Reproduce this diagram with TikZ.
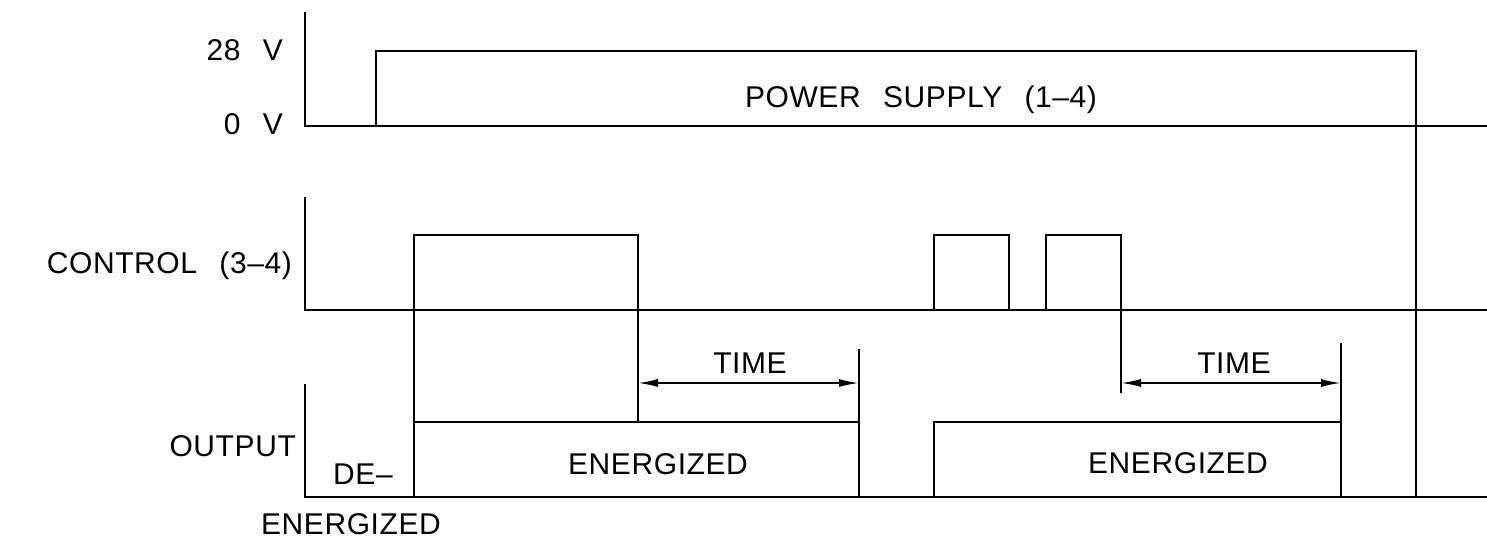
\documentclass[tikz,border=0pt]{standalone}
\usepackage{fontspec}
\setmainfont{Liberation Sans}[WordSpace=2.5,LetterSpace=2]
\usepackage{tikz}
\usetikzlibrary{arrows.meta}

\begin{document}
\begin{tikzpicture}[x=0.5pt,y=-0.5pt,line width=1.1pt,font=\fontsize{15}{18}\selectfont,lbl/.style={inner sep=0pt,text height=10.7pt,text depth=0pt},dim/.style={{Latex[length=10pt,width=4pt]}-{Latex[length=10pt,width=4pt]},line width=0.9pt}]
\useasboundingbox (0,0) rectangle (1487,541);
% power supply trace
\node[lbl,anchor=east] (v28) at (284,50) {28 V};
\node[lbl,anchor=east] (v0) at (284,124) {0 V};
\draw (305,12) -- (305,126) -- (1487,126);
\draw (376,126) -- (376,51) -- (1416,51) -- (1416,497);
\node[lbl] (power) at (921,97) {POWER SUPPLY (1–4)};
% control trace
\node[lbl,anchor=east] (ctrl) at (293,263) {CONTROL (3–4)};
\draw (305,197) -- (305,310) -- (1487,310);
\draw (414,497) -- (414,235) -- (638,235) -- (638,422);
\draw (934,310) -- (934,235) -- (1009,235) -- (1009,310);
\draw (1046,310) -- (1046,235) -- (1121,235) -- (1121,393);
% output trace
\node[lbl,anchor=east] (out) at (297,446) {OUTPUT};
\draw (305,384) -- (305,497) -- (1487,497);
\draw (414,422) -- (859,422);
\draw (859,349) -- (859,497);
\draw (934,497) -- (934,422) -- (1341,422);
\draw (1341,343) -- (1341,497);
\node[lbl] (de) at (363,474) {DE–};
\node[lbl] (deen) at (351,524) {ENERGIZED};
\node[lbl] (en1) at (658,464) {ENERGIZED};
\node[lbl] (en2) at (1178,463) {ENERGIZED};
% delay times
\coordinate (t1a) at (638,383); \coordinate (t1b) at (859,383);
\coordinate (t2a) at (1121,383); \coordinate (t2b) at (1341,383);
\draw[dim] (t1a) -- (t1b);
\draw[dim] (t2a) -- (t2b);
\node[lbl] (time1) at (750,363) {TIME};
\node[lbl] (time2) at (1234,363) {TIME};
\end{tikzpicture}
\end{document}
